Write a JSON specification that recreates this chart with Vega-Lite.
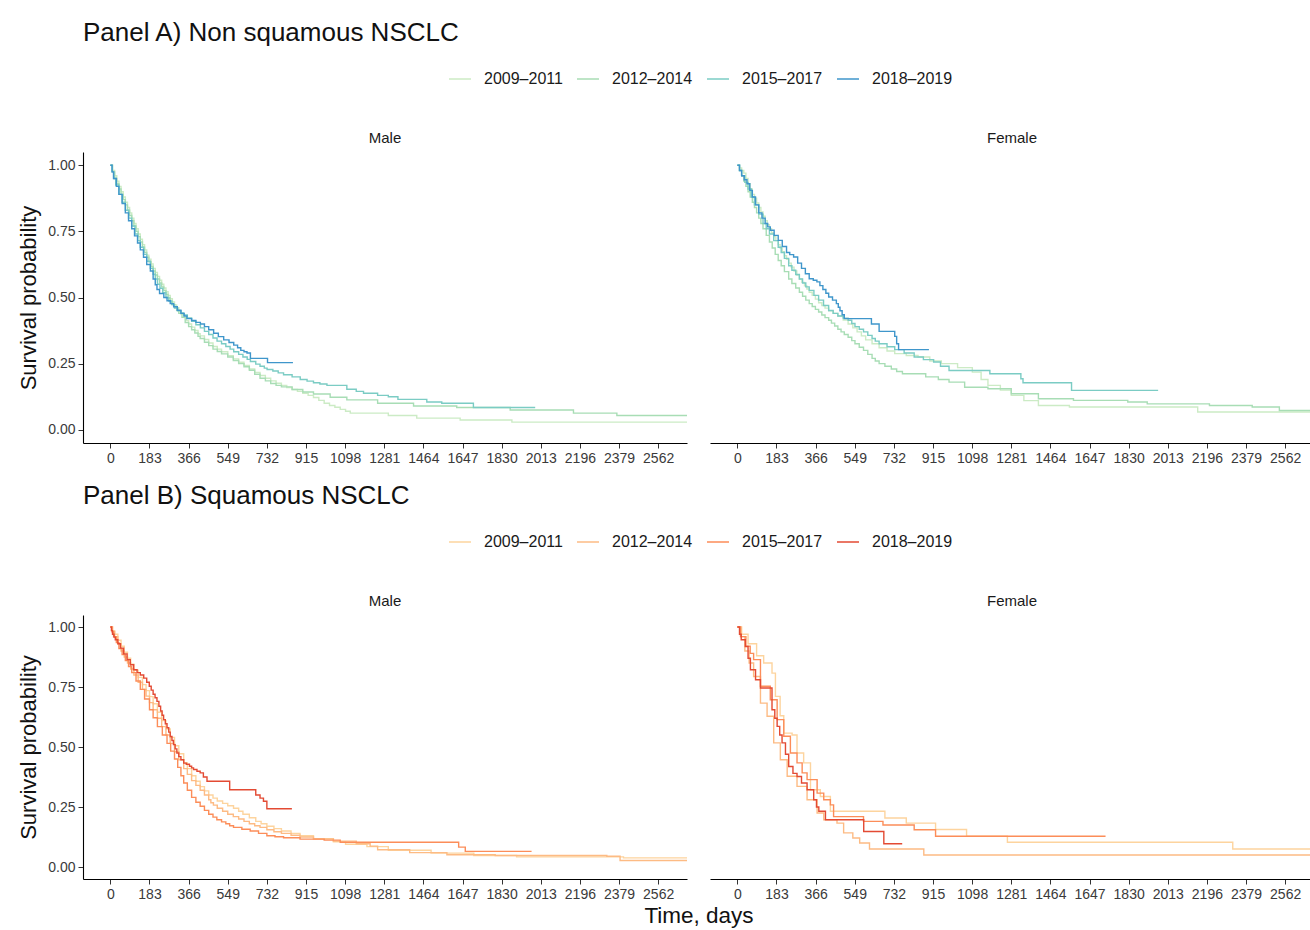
{
"$schema": "https://vega.github.io/schema/vega-lite/v6.json",
"padding": {"left": 17, "top": 20, "right": 0, "bottom": 0},
"config": {
  "font": "Liberation Sans",
  "view": {"stroke": null},
  "title": {"fontSize": 26, "fontWeight": "normal", "anchor": "start", "frame": "group", "color": "#111111", "offset": 21},
  "axis": {"grid": false, "domainColor": "#000000", "domainWidth": 1.1, "tickColor": "#333333", "tickSize": 5, "labelColor": "#3a3a3a", "labelFontSize": 14, "labelPadding": 3, "titleFontSize": 22, "titleFontWeight": "normal", "titleColor": "#111111"},
  "header": {"labelFontSize": 15, "labelColor": "#1a1a1a", "labelPadding": 6},
  "legend": {"orient": "none", "legendX": 365, "legendY": -85, "direction": "horizontal", "symbolType": "stroke", "symbolSize": 484, "symbolStrokeWidth": 1.5, "labelFontSize": 16, "labelColor": "#1a1a1a", "columnPadding": 11, "labelOffset": 12}
},
"datasets": {"km": [
{"p":"A","sex":"Male","g":"2009–2011","d":0,"s":1},{"p":"A","sex":"Male","g":"2009–2011","d":10,"s":0.98},{"p":"A","sex":"Male","g":"2009–2011","d":20,"s":0.96},{"p":"A","sex":"Male","g":"2009–2011","d":30,"s":0.94},{"p":"A","sex":"Male","g":"2009–2011","d":40,"s":0.92},{"p":"A","sex":"Male","g":"2009–2011","d":50,"s":0.90},{"p":"A","sex":"Male","g":"2009–2011","d":60,"s":0.88},{"p":"A","sex":"Male","g":"2009–2011","d":70,"s":0.86},{"p":"A","sex":"Male","g":"2009–2011","d":80,"s":0.84},{"p":"A","sex":"Male","g":"2009–2011","d":90,"s":0.82},{"p":"A","sex":"Male","g":"2009–2011","d":100,"s":0.80},{"p":"A","sex":"Male","g":"2009–2011","d":110,"s":0.78},{"p":"A","sex":"Male","g":"2009–2011","d":120,"s":0.76},{"p":"A","sex":"Male","g":"2009–2011","d":130,"s":0.74},{"p":"A","sex":"Male","g":"2009–2011","d":140,"s":0.72},{"p":"A","sex":"Male","g":"2009–2011","d":150,"s":0.70},{"p":"A","sex":"Male","g":"2009–2011","d":160,"s":0.68},{"p":"A","sex":"Male","g":"2009–2011","d":170,"s":0.66},{"p":"A","sex":"Male","g":"2009–2011","d":180,"s":0.645},{"p":"A","sex":"Male","g":"2009–2011","d":190,"s":0.627},{"p":"A","sex":"Male","g":"2009–2011","d":200,"s":0.61},{"p":"A","sex":"Male","g":"2009–2011","d":210,"s":0.595},{"p":"A","sex":"Male","g":"2009–2011","d":220,"s":0.58},{"p":"A","sex":"Male","g":"2009–2011","d":230,"s":0.565},{"p":"A","sex":"Male","g":"2009–2011","d":240,"s":0.55},{"p":"A","sex":"Male","g":"2009–2011","d":250,"s":0.536},{"p":"A","sex":"Male","g":"2009–2011","d":260,"s":0.522},{"p":"A","sex":"Male","g":"2009–2011","d":270,"s":0.508},{"p":"A","sex":"Male","g":"2009–2011","d":280,"s":0.495},{"p":"A","sex":"Male","g":"2009–2011","d":290,"s":0.483},{"p":"A","sex":"Male","g":"2009–2011","d":300,"s":0.472},{"p":"A","sex":"Male","g":"2009–2011","d":310,"s":0.461},{"p":"A","sex":"Male","g":"2009–2011","d":320,"s":0.45},{"p":"A","sex":"Male","g":"2009–2011","d":330,"s":0.437},{"p":"A","sex":"Male","g":"2009–2011","d":343,"s":0.425},{"p":"A","sex":"Male","g":"2009–2011","d":355,"s":0.412},{"p":"A","sex":"Male","g":"2009–2011","d":366,"s":0.40},{"p":"A","sex":"Male","g":"2009–2011","d":380,"s":0.388},{"p":"A","sex":"Male","g":"2009–2011","d":395,"s":0.375},{"p":"A","sex":"Male","g":"2009–2011","d":410,"s":0.363},{"p":"A","sex":"Male","g":"2009–2011","d":420,"s":0.355},{"p":"A","sex":"Male","g":"2009–2011","d":440,"s":0.341},{"p":"A","sex":"Male","g":"2009–2011","d":460,"s":0.328},{"p":"A","sex":"Male","g":"2009–2011","d":480,"s":0.315},{"p":"A","sex":"Male","g":"2009–2011","d":500,"s":0.305},{"p":"A","sex":"Male","g":"2009–2011","d":520,"s":0.295},{"p":"A","sex":"Male","g":"2009–2011","d":549,"s":0.28},{"p":"A","sex":"Male","g":"2009–2011","d":575,"s":0.268},{"p":"A","sex":"Male","g":"2009–2011","d":600,"s":0.255},{"p":"A","sex":"Male","g":"2009–2011","d":625,"s":0.243},{"p":"A","sex":"Male","g":"2009–2011","d":650,"s":0.23},{"p":"A","sex":"Male","g":"2009–2011","d":675,"s":0.217},{"p":"A","sex":"Male","g":"2009–2011","d":700,"s":0.205},{"p":"A","sex":"Male","g":"2009–2011","d":725,"s":0.195},{"p":"A","sex":"Male","g":"2009–2011","d":750,"s":0.185},{"p":"A","sex":"Male","g":"2009–2011","d":775,"s":0.176},{"p":"A","sex":"Male","g":"2009–2011","d":800,"s":0.168},{"p":"A","sex":"Male","g":"2009–2011","d":825,"s":0.16},{"p":"A","sex":"Male","g":"2009–2011","d":850,"s":0.152},{"p":"A","sex":"Male","g":"2009–2011","d":875,"s":0.145},{"p":"A","sex":"Male","g":"2009–2011","d":900,"s":0.138},{"p":"A","sex":"Male","g":"2009–2011","d":925,"s":0.13},{"p":"A","sex":"Male","g":"2009–2011","d":950,"s":0.122},{"p":"A","sex":"Male","g":"2009–2011","d":975,"s":0.111},{"p":"A","sex":"Male","g":"2009–2011","d":1000,"s":0.10},{"p":"A","sex":"Male","g":"2009–2011","d":1025,"s":0.092},{"p":"A","sex":"Male","g":"2009–2011","d":1050,"s":0.085},{"p":"A","sex":"Male","g":"2009–2011","d":1075,"s":0.077},{"p":"A","sex":"Male","g":"2009–2011","d":1100,"s":0.07},{"p":"A","sex":"Male","g":"2009–2011","d":1122,"s":0.063},{"p":"A","sex":"Male","g":"2009–2011","d":1300,"s":0.054},{"p":"A","sex":"Male","g":"2009–2011","d":1433,"s":0.044},{"p":"A","sex":"Male","g":"2009–2011","d":1636,"s":0.037},{"p":"A","sex":"Male","g":"2009–2011","d":1878,"s":0.029},{"p":"A","sex":"Male","g":"2009–2011","d":2697,"s":0.029},
{"p":"A","sex":"Male","g":"2012–2014","d":0,"s":1},{"p":"A","sex":"Male","g":"2012–2014","d":10,"s":0.975},{"p":"A","sex":"Male","g":"2012–2014","d":20,"s":0.95},{"p":"A","sex":"Male","g":"2012–2014","d":30,"s":0.93},{"p":"A","sex":"Male","g":"2012–2014","d":40,"s":0.91},{"p":"A","sex":"Male","g":"2012–2014","d":50,"s":0.89},{"p":"A","sex":"Male","g":"2012–2014","d":60,"s":0.87},{"p":"A","sex":"Male","g":"2012–2014","d":70,"s":0.85},{"p":"A","sex":"Male","g":"2012–2014","d":80,"s":0.83},{"p":"A","sex":"Male","g":"2012–2014","d":90,"s":0.81},{"p":"A","sex":"Male","g":"2012–2014","d":100,"s":0.79},{"p":"A","sex":"Male","g":"2012–2014","d":110,"s":0.77},{"p":"A","sex":"Male","g":"2012–2014","d":120,"s":0.75},{"p":"A","sex":"Male","g":"2012–2014","d":130,"s":0.73},{"p":"A","sex":"Male","g":"2012–2014","d":140,"s":0.71},{"p":"A","sex":"Male","g":"2012–2014","d":150,"s":0.69},{"p":"A","sex":"Male","g":"2012–2014","d":160,"s":0.67},{"p":"A","sex":"Male","g":"2012–2014","d":170,"s":0.652},{"p":"A","sex":"Male","g":"2012–2014","d":180,"s":0.635},{"p":"A","sex":"Male","g":"2012–2014","d":190,"s":0.617},{"p":"A","sex":"Male","g":"2012–2014","d":200,"s":0.60},{"p":"A","sex":"Male","g":"2012–2014","d":210,"s":0.585},{"p":"A","sex":"Male","g":"2012–2014","d":220,"s":0.57},{"p":"A","sex":"Male","g":"2012–2014","d":230,"s":0.555},{"p":"A","sex":"Male","g":"2012–2014","d":240,"s":0.54},{"p":"A","sex":"Male","g":"2012–2014","d":250,"s":0.526},{"p":"A","sex":"Male","g":"2012–2014","d":260,"s":0.512},{"p":"A","sex":"Male","g":"2012–2014","d":270,"s":0.498},{"p":"A","sex":"Male","g":"2012–2014","d":280,"s":0.485},{"p":"A","sex":"Male","g":"2012–2014","d":290,"s":0.473},{"p":"A","sex":"Male","g":"2012–2014","d":300,"s":0.462},{"p":"A","sex":"Male","g":"2012–2014","d":310,"s":0.451},{"p":"A","sex":"Male","g":"2012–2014","d":320,"s":0.44},{"p":"A","sex":"Male","g":"2012–2014","d":335,"s":0.425},{"p":"A","sex":"Male","g":"2012–2014","d":350,"s":0.405},{"p":"A","sex":"Male","g":"2012–2014","d":366,"s":0.39},{"p":"A","sex":"Male","g":"2012–2014","d":380,"s":0.378},{"p":"A","sex":"Male","g":"2012–2014","d":395,"s":0.366},{"p":"A","sex":"Male","g":"2012–2014","d":410,"s":0.353},{"p":"A","sex":"Male","g":"2012–2014","d":420,"s":0.345},{"p":"A","sex":"Male","g":"2012–2014","d":440,"s":0.331},{"p":"A","sex":"Male","g":"2012–2014","d":460,"s":0.318},{"p":"A","sex":"Male","g":"2012–2014","d":480,"s":0.305},{"p":"A","sex":"Male","g":"2012–2014","d":500,"s":0.296},{"p":"A","sex":"Male","g":"2012–2014","d":520,"s":0.287},{"p":"A","sex":"Male","g":"2012–2014","d":549,"s":0.275},{"p":"A","sex":"Male","g":"2012–2014","d":575,"s":0.262},{"p":"A","sex":"Male","g":"2012–2014","d":600,"s":0.25},{"p":"A","sex":"Male","g":"2012–2014","d":625,"s":0.238},{"p":"A","sex":"Male","g":"2012–2014","d":650,"s":0.225},{"p":"A","sex":"Male","g":"2012–2014","d":675,"s":0.21},{"p":"A","sex":"Male","g":"2012–2014","d":700,"s":0.195},{"p":"A","sex":"Male","g":"2012–2014","d":725,"s":0.185},{"p":"A","sex":"Male","g":"2012–2014","d":750,"s":0.175},{"p":"A","sex":"Male","g":"2012–2014","d":775,"s":0.168},{"p":"A","sex":"Male","g":"2012–2014","d":800,"s":0.162},{"p":"A","sex":"Male","g":"2012–2014","d":850,"s":0.152},{"p":"A","sex":"Male","g":"2012–2014","d":900,"s":0.143},{"p":"A","sex":"Male","g":"2012–2014","d":950,"s":0.135},{"p":"A","sex":"Male","g":"2012–2014","d":1028,"s":0.123},{"p":"A","sex":"Male","g":"2012–2014","d":1106,"s":0.113},{"p":"A","sex":"Male","g":"2012–2014","d":1250,"s":0.10},{"p":"A","sex":"Male","g":"2012–2014","d":1418,"s":0.09},{"p":"A","sex":"Male","g":"2012–2014","d":1620,"s":0.084},{"p":"A","sex":"Male","g":"2012–2014","d":1870,"s":0.075},{"p":"A","sex":"Male","g":"2012–2014","d":2166,"s":0.063},{"p":"A","sex":"Male","g":"2012–2014","d":2369,"s":0.054},{"p":"A","sex":"Male","g":"2012–2014","d":2697,"s":0.054},
{"p":"A","sex":"Male","g":"2015–2017","d":0,"s":1},{"p":"A","sex":"Male","g":"2015–2017","d":8,"s":0.975},{"p":"A","sex":"Male","g":"2015–2017","d":15,"s":0.95},{"p":"A","sex":"Male","g":"2015–2017","d":25,"s":0.925},{"p":"A","sex":"Male","g":"2015–2017","d":40,"s":0.89},{"p":"A","sex":"Male","g":"2015–2017","d":55,"s":0.86},{"p":"A","sex":"Male","g":"2015–2017","d":70,"s":0.83},{"p":"A","sex":"Male","g":"2015–2017","d":85,"s":0.80},{"p":"A","sex":"Male","g":"2015–2017","d":100,"s":0.77},{"p":"A","sex":"Male","g":"2015–2017","d":115,"s":0.74},{"p":"A","sex":"Male","g":"2015–2017","d":128,"s":0.715},{"p":"A","sex":"Male","g":"2015–2017","d":140,"s":0.69},{"p":"A","sex":"Male","g":"2015–2017","d":155,"s":0.663},{"p":"A","sex":"Male","g":"2015–2017","d":170,"s":0.637},{"p":"A","sex":"Male","g":"2015–2017","d":187,"s":0.61},{"p":"A","sex":"Male","g":"2015–2017","d":200,"s":0.588},{"p":"A","sex":"Male","g":"2015–2017","d":210,"s":0.57},{"p":"A","sex":"Male","g":"2015–2017","d":220,"s":0.55},{"p":"A","sex":"Male","g":"2015–2017","d":232,"s":0.535},{"p":"A","sex":"Male","g":"2015–2017","d":245,"s":0.518},{"p":"A","sex":"Male","g":"2015–2017","d":260,"s":0.50},{"p":"A","sex":"Male","g":"2015–2017","d":273,"s":0.487},{"p":"A","sex":"Male","g":"2015–2017","d":287,"s":0.473},{"p":"A","sex":"Male","g":"2015–2017","d":300,"s":0.46},{"p":"A","sex":"Male","g":"2015–2017","d":315,"s":0.45},{"p":"A","sex":"Male","g":"2015–2017","d":330,"s":0.442},{"p":"A","sex":"Male","g":"2015–2017","d":343,"s":0.434},{"p":"A","sex":"Male","g":"2015–2017","d":360,"s":0.423},{"p":"A","sex":"Male","g":"2015–2017","d":380,"s":0.41},{"p":"A","sex":"Male","g":"2015–2017","d":400,"s":0.397},{"p":"A","sex":"Male","g":"2015–2017","d":421,"s":0.385},{"p":"A","sex":"Male","g":"2015–2017","d":440,"s":0.372},{"p":"A","sex":"Male","g":"2015–2017","d":460,"s":0.36},{"p":"A","sex":"Male","g":"2015–2017","d":480,"s":0.347},{"p":"A","sex":"Male","g":"2015–2017","d":499,"s":0.335},{"p":"A","sex":"Male","g":"2015–2017","d":520,"s":0.325},{"p":"A","sex":"Male","g":"2015–2017","d":540,"s":0.315},{"p":"A","sex":"Male","g":"2015–2017","d":560,"s":0.305},{"p":"A","sex":"Male","g":"2015–2017","d":577,"s":0.295},{"p":"A","sex":"Male","g":"2015–2017","d":600,"s":0.285},{"p":"A","sex":"Male","g":"2015–2017","d":620,"s":0.275},{"p":"A","sex":"Male","g":"2015–2017","d":640,"s":0.266},{"p":"A","sex":"Male","g":"2015–2017","d":655,"s":0.258},{"p":"A","sex":"Male","g":"2015–2017","d":680,"s":0.248},{"p":"A","sex":"Male","g":"2015–2017","d":700,"s":0.24},{"p":"A","sex":"Male","g":"2015–2017","d":720,"s":0.233},{"p":"A","sex":"Male","g":"2015–2017","d":733,"s":0.228},{"p":"A","sex":"Male","g":"2015–2017","d":760,"s":0.222},{"p":"A","sex":"Male","g":"2015–2017","d":785,"s":0.215},{"p":"A","sex":"Male","g":"2015–2017","d":810,"s":0.208},{"p":"A","sex":"Male","g":"2015–2017","d":850,"s":0.20},{"p":"A","sex":"Male","g":"2015–2017","d":888,"s":0.19},{"p":"A","sex":"Male","g":"2015–2017","d":920,"s":0.184},{"p":"A","sex":"Male","g":"2015–2017","d":950,"s":0.178},{"p":"A","sex":"Male","g":"2015–2017","d":980,"s":0.173},{"p":"A","sex":"Male","g":"2015–2017","d":1013,"s":0.168},{"p":"A","sex":"Male","g":"2015–2017","d":1106,"s":0.153},{"p":"A","sex":"Male","g":"2015–2017","d":1150,"s":0.145},{"p":"A","sex":"Male","g":"2015–2017","d":1184,"s":0.138},{"p":"A","sex":"Male","g":"2015–2017","d":1250,"s":0.13},{"p":"A","sex":"Male","g":"2015–2017","d":1300,"s":0.125},{"p":"A","sex":"Male","g":"2015–2017","d":1345,"s":0.115},{"p":"A","sex":"Male","g":"2015–2017","d":1480,"s":0.105},{"p":"A","sex":"Male","g":"2015–2017","d":1550,"s":0.10},{"p":"A","sex":"Male","g":"2015–2017","d":1698,"s":0.084},{"p":"A","sex":"Male","g":"2015–2017","d":1987,"s":0.084},
{"p":"A","sex":"Male","g":"2018–2019","d":0,"s":1},{"p":"A","sex":"Male","g":"2018–2019","d":8,"s":0.975},{"p":"A","sex":"Male","g":"2018–2019","d":15,"s":0.95},{"p":"A","sex":"Male","g":"2018–2019","d":28,"s":0.92},{"p":"A","sex":"Male","g":"2018–2019","d":40,"s":0.89},{"p":"A","sex":"Male","g":"2018–2019","d":55,"s":0.855},{"p":"A","sex":"Male","g":"2018–2019","d":70,"s":0.82},{"p":"A","sex":"Male","g":"2018–2019","d":85,"s":0.79},{"p":"A","sex":"Male","g":"2018–2019","d":100,"s":0.76},{"p":"A","sex":"Male","g":"2018–2019","d":113,"s":0.733},{"p":"A","sex":"Male","g":"2018–2019","d":127,"s":0.706},{"p":"A","sex":"Male","g":"2018–2019","d":140,"s":0.68},{"p":"A","sex":"Male","g":"2018–2019","d":155,"s":0.652},{"p":"A","sex":"Male","g":"2018–2019","d":170,"s":0.625},{"p":"A","sex":"Male","g":"2018–2019","d":187,"s":0.60},{"p":"A","sex":"Male","g":"2018–2019","d":200,"s":0.57},{"p":"A","sex":"Male","g":"2018–2019","d":210,"s":0.548},{"p":"A","sex":"Male","g":"2018–2019","d":218,"s":0.53},{"p":"A","sex":"Male","g":"2018–2019","d":230,"s":0.515},{"p":"A","sex":"Male","g":"2018–2019","d":250,"s":0.50},{"p":"A","sex":"Male","g":"2018–2019","d":265,"s":0.488},{"p":"A","sex":"Male","g":"2018–2019","d":280,"s":0.477},{"p":"A","sex":"Male","g":"2018–2019","d":296,"s":0.465},{"p":"A","sex":"Male","g":"2018–2019","d":313,"s":0.452},{"p":"A","sex":"Male","g":"2018–2019","d":330,"s":0.44},{"p":"A","sex":"Male","g":"2018–2019","d":345,"s":0.43},{"p":"A","sex":"Male","g":"2018–2019","d":358,"s":0.42},{"p":"A","sex":"Male","g":"2018–2019","d":380,"s":0.413},{"p":"A","sex":"Male","g":"2018–2019","d":400,"s":0.406},{"p":"A","sex":"Male","g":"2018–2019","d":421,"s":0.40},{"p":"A","sex":"Male","g":"2018–2019","d":440,"s":0.39},{"p":"A","sex":"Male","g":"2018–2019","d":460,"s":0.378},{"p":"A","sex":"Male","g":"2018–2019","d":483,"s":0.365},{"p":"A","sex":"Male","g":"2018–2019","d":505,"s":0.352},{"p":"A","sex":"Male","g":"2018–2019","d":530,"s":0.34},{"p":"A","sex":"Male","g":"2018–2019","d":555,"s":0.33},{"p":"A","sex":"Male","g":"2018–2019","d":577,"s":0.32},{"p":"A","sex":"Male","g":"2018–2019","d":595,"s":0.31},{"p":"A","sex":"Male","g":"2018–2019","d":610,"s":0.30},{"p":"A","sex":"Male","g":"2018–2019","d":625,"s":0.295},{"p":"A","sex":"Male","g":"2018–2019","d":639,"s":0.29},{"p":"A","sex":"Male","g":"2018–2019","d":655,"s":0.27},{"p":"A","sex":"Male","g":"2018–2019","d":735,"s":0.254},{"p":"A","sex":"Male","g":"2018–2019","d":854,"s":0.254},
{"p":"A","sex":"Female","g":"2009–2011","d":0,"s":1},{"p":"A","sex":"Female","g":"2009–2011","d":10,"s":0.99},{"p":"A","sex":"Female","g":"2009–2011","d":20,"s":0.98},{"p":"A","sex":"Female","g":"2009–2011","d":30,"s":0.97},{"p":"A","sex":"Female","g":"2009–2011","d":40,"s":0.95},{"p":"A","sex":"Female","g":"2009–2011","d":50,"s":0.93},{"p":"A","sex":"Female","g":"2009–2011","d":60,"s":0.91},{"p":"A","sex":"Female","g":"2009–2011","d":70,"s":0.89},{"p":"A","sex":"Female","g":"2009–2011","d":80,"s":0.875},{"p":"A","sex":"Female","g":"2009–2011","d":90,"s":0.857},{"p":"A","sex":"Female","g":"2009–2011","d":100,"s":0.84},{"p":"A","sex":"Female","g":"2009–2011","d":110,"s":0.823},{"p":"A","sex":"Female","g":"2009–2011","d":120,"s":0.807},{"p":"A","sex":"Female","g":"2009–2011","d":130,"s":0.79},{"p":"A","sex":"Female","g":"2009–2011","d":140,"s":0.775},{"p":"A","sex":"Female","g":"2009–2011","d":150,"s":0.76},{"p":"A","sex":"Female","g":"2009–2011","d":160,"s":0.745},{"p":"A","sex":"Female","g":"2009–2011","d":170,"s":0.73},{"p":"A","sex":"Female","g":"2009–2011","d":180,"s":0.715},{"p":"A","sex":"Female","g":"2009–2011","d":191,"s":0.70},{"p":"A","sex":"Female","g":"2009–2011","d":200,"s":0.687},{"p":"A","sex":"Female","g":"2009–2011","d":210,"s":0.673},{"p":"A","sex":"Female","g":"2009–2011","d":220,"s":0.658},{"p":"A","sex":"Female","g":"2009–2011","d":230,"s":0.644},{"p":"A","sex":"Female","g":"2009–2011","d":240,"s":0.63},{"p":"A","sex":"Female","g":"2009–2011","d":252,"s":0.615},{"p":"A","sex":"Female","g":"2009–2011","d":265,"s":0.60},{"p":"A","sex":"Female","g":"2009–2011","d":278,"s":0.585},{"p":"A","sex":"Female","g":"2009–2011","d":290,"s":0.57},{"p":"A","sex":"Female","g":"2009–2011","d":302,"s":0.557},{"p":"A","sex":"Female","g":"2009–2011","d":314,"s":0.544},{"p":"A","sex":"Female","g":"2009–2011","d":325,"s":0.532},{"p":"A","sex":"Female","g":"2009–2011","d":336,"s":0.52},{"p":"A","sex":"Female","g":"2009–2011","d":350,"s":0.508},{"p":"A","sex":"Female","g":"2009–2011","d":365,"s":0.494},{"p":"A","sex":"Female","g":"2009–2011","d":380,"s":0.48},{"p":"A","sex":"Female","g":"2009–2011","d":395,"s":0.47},{"p":"A","sex":"Female","g":"2009–2011","d":410,"s":0.46},{"p":"A","sex":"Female","g":"2009–2011","d":427,"s":0.45},{"p":"A","sex":"Female","g":"2009–2011","d":448,"s":0.44},{"p":"A","sex":"Female","g":"2009–2011","d":470,"s":0.43},{"p":"A","sex":"Female","g":"2009–2011","d":495,"s":0.415},{"p":"A","sex":"Female","g":"2009–2011","d":518,"s":0.40},{"p":"A","sex":"Female","g":"2009–2011","d":540,"s":0.385},{"p":"A","sex":"Female","g":"2009–2011","d":560,"s":0.37},{"p":"A","sex":"Female","g":"2009–2011","d":580,"s":0.355},{"p":"A","sex":"Female","g":"2009–2011","d":600,"s":0.34},{"p":"A","sex":"Female","g":"2009–2011","d":630,"s":0.325},{"p":"A","sex":"Female","g":"2009–2011","d":663,"s":0.31},{"p":"A","sex":"Female","g":"2009–2011","d":700,"s":0.298},{"p":"A","sex":"Female","g":"2009–2011","d":736,"s":0.288},{"p":"A","sex":"Female","g":"2009–2011","d":790,"s":0.281},{"p":"A","sex":"Female","g":"2009–2011","d":845,"s":0.275},{"p":"A","sex":"Female","g":"2009–2011","d":900,"s":0.26},{"p":"A","sex":"Female","g":"2009–2011","d":954,"s":0.25},{"p":"A","sex":"Female","g":"2009–2011","d":1030,"s":0.235},{"p":"A","sex":"Female","g":"2009–2011","d":1099,"s":0.218},{"p":"A","sex":"Female","g":"2009–2011","d":1140,"s":0.19},{"p":"A","sex":"Female","g":"2009–2011","d":1172,"s":0.168},{"p":"A","sex":"Female","g":"2009–2011","d":1230,"s":0.15},{"p":"A","sex":"Female","g":"2009–2011","d":1281,"s":0.13},{"p":"A","sex":"Female","g":"2009–2011","d":1340,"s":0.11},{"p":"A","sex":"Female","g":"2009–2011","d":1408,"s":0.092},{"p":"A","sex":"Female","g":"2009–2011","d":1553,"s":0.086},{"p":"A","sex":"Female","g":"2009–2011","d":2153,"s":0.067},{"p":"A","sex":"Female","g":"2009–2011","d":2697,"s":0.067},
{"p":"A","sex":"Female","g":"2012–2014","d":0,"s":1},{"p":"A","sex":"Female","g":"2012–2014","d":10,"s":0.98},{"p":"A","sex":"Female","g":"2012–2014","d":20,"s":0.96},{"p":"A","sex":"Female","g":"2012–2014","d":30,"s":0.94},{"p":"A","sex":"Female","g":"2012–2014","d":40,"s":0.92},{"p":"A","sex":"Female","g":"2012–2014","d":50,"s":0.90},{"p":"A","sex":"Female","g":"2012–2014","d":60,"s":0.88},{"p":"A","sex":"Female","g":"2012–2014","d":70,"s":0.86},{"p":"A","sex":"Female","g":"2012–2014","d":80,"s":0.84},{"p":"A","sex":"Female","g":"2012–2014","d":90,"s":0.82},{"p":"A","sex":"Female","g":"2012–2014","d":100,"s":0.80},{"p":"A","sex":"Female","g":"2012–2014","d":110,"s":0.78},{"p":"A","sex":"Female","g":"2012–2014","d":120,"s":0.76},{"p":"A","sex":"Female","g":"2012–2014","d":135,"s":0.735},{"p":"A","sex":"Female","g":"2012–2014","d":150,"s":0.71},{"p":"A","sex":"Female","g":"2012–2014","d":163,"s":0.687},{"p":"A","sex":"Female","g":"2012–2014","d":177,"s":0.663},{"p":"A","sex":"Female","g":"2012–2014","d":191,"s":0.64},{"p":"A","sex":"Female","g":"2012–2014","d":205,"s":0.62},{"p":"A","sex":"Female","g":"2012–2014","d":220,"s":0.598},{"p":"A","sex":"Female","g":"2012–2014","d":240,"s":0.57},{"p":"A","sex":"Female","g":"2012–2014","d":255,"s":0.553},{"p":"A","sex":"Female","g":"2012–2014","d":273,"s":0.536},{"p":"A","sex":"Female","g":"2012–2014","d":290,"s":0.52},{"p":"A","sex":"Female","g":"2012–2014","d":305,"s":0.505},{"p":"A","sex":"Female","g":"2012–2014","d":320,"s":0.49},{"p":"A","sex":"Female","g":"2012–2014","d":336,"s":0.477},{"p":"A","sex":"Female","g":"2012–2014","d":350,"s":0.466},{"p":"A","sex":"Female","g":"2012–2014","d":365,"s":0.455},{"p":"A","sex":"Female","g":"2012–2014","d":380,"s":0.445},{"p":"A","sex":"Female","g":"2012–2014","d":395,"s":0.434},{"p":"A","sex":"Female","g":"2012–2014","d":410,"s":0.424},{"p":"A","sex":"Female","g":"2012–2014","d":427,"s":0.414},{"p":"A","sex":"Female","g":"2012–2014","d":440,"s":0.403},{"p":"A","sex":"Female","g":"2012–2014","d":455,"s":0.392},{"p":"A","sex":"Female","g":"2012–2014","d":470,"s":0.38},{"p":"A","sex":"Female","g":"2012–2014","d":485,"s":0.37},{"p":"A","sex":"Female","g":"2012–2014","d":500,"s":0.36},{"p":"A","sex":"Female","g":"2012–2014","d":518,"s":0.35},{"p":"A","sex":"Female","g":"2012–2014","d":535,"s":0.337},{"p":"A","sex":"Female","g":"2012–2014","d":550,"s":0.325},{"p":"A","sex":"Female","g":"2012–2014","d":570,"s":0.312},{"p":"A","sex":"Female","g":"2012–2014","d":590,"s":0.30},{"p":"A","sex":"Female","g":"2012–2014","d":610,"s":0.285},{"p":"A","sex":"Female","g":"2012–2014","d":630,"s":0.27},{"p":"A","sex":"Female","g":"2012–2014","d":645,"s":0.26},{"p":"A","sex":"Female","g":"2012–2014","d":663,"s":0.25},{"p":"A","sex":"Female","g":"2012–2014","d":690,"s":0.24},{"p":"A","sex":"Female","g":"2012–2014","d":720,"s":0.23},{"p":"A","sex":"Female","g":"2012–2014","d":745,"s":0.22},{"p":"A","sex":"Female","g":"2012–2014","d":772,"s":0.212},{"p":"A","sex":"Female","g":"2012–2014","d":881,"s":0.20},{"p":"A","sex":"Female","g":"2012–2014","d":940,"s":0.19},{"p":"A","sex":"Female","g":"2012–2014","d":990,"s":0.18},{"p":"A","sex":"Female","g":"2012–2014","d":1063,"s":0.161},{"p":"A","sex":"Female","g":"2012–2014","d":1172,"s":0.155},{"p":"A","sex":"Female","g":"2012–2014","d":1281,"s":0.136},{"p":"A","sex":"Female","g":"2012–2014","d":1408,"s":0.117},{"p":"A","sex":"Female","g":"2012–2014","d":1572,"s":0.111},{"p":"A","sex":"Female","g":"2012–2014","d":1826,"s":0.105},{"p":"A","sex":"Female","g":"2012–2014","d":1917,"s":0.098},{"p":"A","sex":"Female","g":"2012–2014","d":2208,"s":0.092},{"p":"A","sex":"Female","g":"2012–2014","d":2408,"s":0.086},{"p":"A","sex":"Female","g":"2012–2014","d":2535,"s":0.073},{"p":"A","sex":"Female","g":"2012–2014","d":2697,"s":0.073},
{"p":"A","sex":"Female","g":"2015–2017","d":0,"s":1},{"p":"A","sex":"Female","g":"2015–2017","d":10,"s":0.98},{"p":"A","sex":"Female","g":"2015–2017","d":20,"s":0.96},{"p":"A","sex":"Female","g":"2015–2017","d":35,"s":0.935},{"p":"A","sex":"Female","g":"2015–2017","d":50,"s":0.91},{"p":"A","sex":"Female","g":"2015–2017","d":65,"s":0.88},{"p":"A","sex":"Female","g":"2015–2017","d":80,"s":0.85},{"p":"A","sex":"Female","g":"2015–2017","d":100,"s":0.815},{"p":"A","sex":"Female","g":"2015–2017","d":120,"s":0.78},{"p":"A","sex":"Female","g":"2015–2017","d":135,"s":0.76},{"p":"A","sex":"Female","g":"2015–2017","d":150,"s":0.74},{"p":"A","sex":"Female","g":"2015–2017","d":170,"s":0.715},{"p":"A","sex":"Female","g":"2015–2017","d":191,"s":0.69},{"p":"A","sex":"Female","g":"2015–2017","d":205,"s":0.67},{"p":"A","sex":"Female","g":"2015–2017","d":220,"s":0.648},{"p":"A","sex":"Female","g":"2015–2017","d":240,"s":0.62},{"p":"A","sex":"Female","g":"2015–2017","d":255,"s":0.603},{"p":"A","sex":"Female","g":"2015–2017","d":273,"s":0.587},{"p":"A","sex":"Female","g":"2015–2017","d":290,"s":0.57},{"p":"A","sex":"Female","g":"2015–2017","d":305,"s":0.555},{"p":"A","sex":"Female","g":"2015–2017","d":320,"s":0.54},{"p":"A","sex":"Female","g":"2015–2017","d":336,"s":0.527},{"p":"A","sex":"Female","g":"2015–2017","d":358,"s":0.508},{"p":"A","sex":"Female","g":"2015–2017","d":380,"s":0.49},{"p":"A","sex":"Female","g":"2015–2017","d":403,"s":0.47},{"p":"A","sex":"Female","g":"2015–2017","d":427,"s":0.451},{"p":"A","sex":"Female","g":"2015–2017","d":448,"s":0.44},{"p":"A","sex":"Female","g":"2015–2017","d":470,"s":0.43},{"p":"A","sex":"Female","g":"2015–2017","d":495,"s":0.422},{"p":"A","sex":"Female","g":"2015–2017","d":518,"s":0.414},{"p":"A","sex":"Female","g":"2015–2017","d":535,"s":0.402},{"p":"A","sex":"Female","g":"2015–2017","d":550,"s":0.39},{"p":"A","sex":"Female","g":"2015–2017","d":570,"s":0.38},{"p":"A","sex":"Female","g":"2015–2017","d":590,"s":0.37},{"p":"A","sex":"Female","g":"2015–2017","d":610,"s":0.357},{"p":"A","sex":"Female","g":"2015–2017","d":630,"s":0.345},{"p":"A","sex":"Female","g":"2015–2017","d":645,"s":0.335},{"p":"A","sex":"Female","g":"2015–2017","d":663,"s":0.325},{"p":"A","sex":"Female","g":"2015–2017","d":700,"s":0.314},{"p":"A","sex":"Female","g":"2015–2017","d":736,"s":0.303},{"p":"A","sex":"Female","g":"2015–2017","d":780,"s":0.29},{"p":"A","sex":"Female","g":"2015–2017","d":827,"s":0.275},{"p":"A","sex":"Female","g":"2015–2017","d":870,"s":0.265},{"p":"A","sex":"Female","g":"2015–2017","d":918,"s":0.256},{"p":"A","sex":"Female","g":"2015–2017","d":950,"s":0.24},{"p":"A","sex":"Female","g":"2015–2017","d":990,"s":0.224},{"p":"A","sex":"Female","g":"2015–2017","d":1181,"s":0.212},{"p":"A","sex":"Female","g":"2015–2017","d":1326,"s":0.193},{"p":"A","sex":"Female","g":"2015–2017","d":1336,"s":0.178},{"p":"A","sex":"Female","g":"2015–2017","d":1563,"s":0.149},{"p":"A","sex":"Female","g":"2015–2017","d":1968,"s":0.149},
{"p":"A","sex":"Female","g":"2018–2019","d":0,"s":1},{"p":"A","sex":"Female","g":"2018–2019","d":10,"s":0.98},{"p":"A","sex":"Female","g":"2018–2019","d":20,"s":0.96},{"p":"A","sex":"Female","g":"2018–2019","d":32,"s":0.945},{"p":"A","sex":"Female","g":"2018–2019","d":45,"s":0.93},{"p":"A","sex":"Female","g":"2018–2019","d":58,"s":0.905},{"p":"A","sex":"Female","g":"2018–2019","d":70,"s":0.88},{"p":"A","sex":"Female","g":"2018–2019","d":85,"s":0.85},{"p":"A","sex":"Female","g":"2018–2019","d":100,"s":0.82},{"p":"A","sex":"Female","g":"2018–2019","d":115,"s":0.80},{"p":"A","sex":"Female","g":"2018–2019","d":130,"s":0.78},{"p":"A","sex":"Female","g":"2018–2019","d":142,"s":0.767},{"p":"A","sex":"Female","g":"2018–2019","d":154,"s":0.754},{"p":"A","sex":"Female","g":"2018–2019","d":172,"s":0.735},{"p":"A","sex":"Female","g":"2018–2019","d":191,"s":0.716},{"p":"A","sex":"Female","g":"2018–2019","d":210,"s":0.693},{"p":"A","sex":"Female","g":"2018–2019","d":230,"s":0.67},{"p":"A","sex":"Female","g":"2018–2019","d":245,"s":0.662},{"p":"A","sex":"Female","g":"2018–2019","d":263,"s":0.653},{"p":"A","sex":"Female","g":"2018–2019","d":282,"s":0.63},{"p":"A","sex":"Female","g":"2018–2019","d":300,"s":0.61},{"p":"A","sex":"Female","g":"2018–2019","d":318,"s":0.59},{"p":"A","sex":"Female","g":"2018–2019","d":336,"s":0.571},{"p":"A","sex":"Female","g":"2018–2019","d":355,"s":0.565},{"p":"A","sex":"Female","g":"2018–2019","d":372,"s":0.559},{"p":"A","sex":"Female","g":"2018–2019","d":386,"s":0.545},{"p":"A","sex":"Female","g":"2018–2019","d":400,"s":0.53},{"p":"A","sex":"Female","g":"2018–2019","d":414,"s":0.516},{"p":"A","sex":"Female","g":"2018–2019","d":427,"s":0.502},{"p":"A","sex":"Female","g":"2018–2019","d":445,"s":0.49},{"p":"A","sex":"Female","g":"2018–2019","d":463,"s":0.477},{"p":"A","sex":"Female","g":"2018–2019","d":472,"s":0.463},{"p":"A","sex":"Female","g":"2018–2019","d":480,"s":0.45},{"p":"A","sex":"Female","g":"2018–2019","d":490,"s":0.435},{"p":"A","sex":"Female","g":"2018–2019","d":500,"s":0.42},{"p":"A","sex":"Female","g":"2018–2019","d":627,"s":0.40},{"p":"A","sex":"Female","g":"2018–2019","d":663,"s":0.372},{"p":"A","sex":"Female","g":"2018–2019","d":736,"s":0.353},{"p":"A","sex":"Female","g":"2018–2019","d":745,"s":0.325},{"p":"A","sex":"Female","g":"2018–2019","d":754,"s":0.303},{"p":"A","sex":"Female","g":"2018–2019","d":896,"s":0.303},
{"p":"B","sex":"Male","g":"2009–2011","d":0,"s":1},{"p":"B","sex":"Male","g":"2009–2011","d":10,"s":0.985},{"p":"B","sex":"Male","g":"2009–2011","d":20,"s":0.97},{"p":"B","sex":"Male","g":"2009–2011","d":35,"s":0.945},{"p":"B","sex":"Male","g":"2009–2011","d":50,"s":0.92},{"p":"B","sex":"Male","g":"2009–2011","d":65,"s":0.895},{"p":"B","sex":"Male","g":"2009–2011","d":80,"s":0.87},{"p":"B","sex":"Male","g":"2009–2011","d":95,"s":0.845},{"p":"B","sex":"Male","g":"2009–2011","d":110,"s":0.82},{"p":"B","sex":"Male","g":"2009–2011","d":130,"s":0.79},{"p":"B","sex":"Male","g":"2009–2011","d":150,"s":0.76},{"p":"B","sex":"Male","g":"2009–2011","d":167,"s":0.735},{"p":"B","sex":"Male","g":"2009–2011","d":183,"s":0.71},{"p":"B","sex":"Male","g":"2009–2011","d":200,"s":0.68},{"p":"B","sex":"Male","g":"2009–2011","d":220,"s":0.645},{"p":"B","sex":"Male","g":"2009–2011","d":240,"s":0.61},{"p":"B","sex":"Male","g":"2009–2011","d":260,"s":0.575},{"p":"B","sex":"Male","g":"2009–2011","d":280,"s":0.54},{"p":"B","sex":"Male","g":"2009–2011","d":300,"s":0.505},{"p":"B","sex":"Male","g":"2009–2011","d":320,"s":0.472},{"p":"B","sex":"Male","g":"2009–2011","d":343,"s":0.435},{"p":"B","sex":"Male","g":"2009–2011","d":360,"s":0.41},{"p":"B","sex":"Male","g":"2009–2011","d":380,"s":0.38},{"p":"B","sex":"Male","g":"2009–2011","d":400,"s":0.357},{"p":"B","sex":"Male","g":"2009–2011","d":420,"s":0.335},{"p":"B","sex":"Male","g":"2009–2011","d":440,"s":0.317},{"p":"B","sex":"Male","g":"2009–2011","d":460,"s":0.30},{"p":"B","sex":"Male","g":"2009–2011","d":480,"s":0.287},{"p":"B","sex":"Male","g":"2009–2011","d":500,"s":0.275},{"p":"B","sex":"Male","g":"2009–2011","d":525,"s":0.265},{"p":"B","sex":"Male","g":"2009–2011","d":549,"s":0.255},{"p":"B","sex":"Male","g":"2009–2011","d":576,"s":0.245},{"p":"B","sex":"Male","g":"2009–2011","d":600,"s":0.232},{"p":"B","sex":"Male","g":"2009–2011","d":620,"s":0.22},{"p":"B","sex":"Male","g":"2009–2011","d":650,"s":0.205},{"p":"B","sex":"Male","g":"2009–2011","d":680,"s":0.19},{"p":"B","sex":"Male","g":"2009–2011","d":705,"s":0.18},{"p":"B","sex":"Male","g":"2009–2011","d":732,"s":0.17},{"p":"B","sex":"Male","g":"2009–2011","d":765,"s":0.16},{"p":"B","sex":"Male","g":"2009–2011","d":800,"s":0.15},{"p":"B","sex":"Male","g":"2009–2011","d":845,"s":0.14},{"p":"B","sex":"Male","g":"2009–2011","d":887,"s":0.13},{"p":"B","sex":"Male","g":"2009–2011","d":950,"s":0.118},{"p":"B","sex":"Male","g":"2009–2011","d":1043,"s":0.105},{"p":"B","sex":"Male","g":"2009–2011","d":1100,"s":0.095},{"p":"B","sex":"Male","g":"2009–2011","d":1200,"s":0.085},{"p":"B","sex":"Male","g":"2009–2011","d":1300,"s":0.07},{"p":"B","sex":"Male","g":"2009–2011","d":1500,"s":0.058},{"p":"B","sex":"Male","g":"2009–2011","d":1700,"s":0.048},{"p":"B","sex":"Male","g":"2009–2011","d":1900,"s":0.042},{"p":"B","sex":"Male","g":"2009–2011","d":2400,"s":0.038},{"p":"B","sex":"Male","g":"2009–2011","d":2697,"s":0.038},
{"p":"B","sex":"Male","g":"2012–2014","d":0,"s":1},{"p":"B","sex":"Male","g":"2012–2014","d":10,"s":0.98},{"p":"B","sex":"Male","g":"2012–2014","d":20,"s":0.96},{"p":"B","sex":"Male","g":"2012–2014","d":35,"s":0.93},{"p":"B","sex":"Male","g":"2012–2014","d":50,"s":0.90},{"p":"B","sex":"Male","g":"2012–2014","d":65,"s":0.875},{"p":"B","sex":"Male","g":"2012–2014","d":80,"s":0.85},{"p":"B","sex":"Male","g":"2012–2014","d":95,"s":0.825},{"p":"B","sex":"Male","g":"2012–2014","d":110,"s":0.80},{"p":"B","sex":"Male","g":"2012–2014","d":130,"s":0.77},{"p":"B","sex":"Male","g":"2012–2014","d":150,"s":0.74},{"p":"B","sex":"Male","g":"2012–2014","d":167,"s":0.712},{"p":"B","sex":"Male","g":"2012–2014","d":183,"s":0.685},{"p":"B","sex":"Male","g":"2012–2014","d":200,"s":0.655},{"p":"B","sex":"Male","g":"2012–2014","d":220,"s":0.62},{"p":"B","sex":"Male","g":"2012–2014","d":240,"s":0.585},{"p":"B","sex":"Male","g":"2012–2014","d":260,"s":0.55},{"p":"B","sex":"Male","g":"2012–2014","d":280,"s":0.515},{"p":"B","sex":"Male","g":"2012–2014","d":300,"s":0.48},{"p":"B","sex":"Male","g":"2012–2014","d":320,"s":0.447},{"p":"B","sex":"Male","g":"2012–2014","d":343,"s":0.41},{"p":"B","sex":"Male","g":"2012–2014","d":360,"s":0.386},{"p":"B","sex":"Male","g":"2012–2014","d":380,"s":0.36},{"p":"B","sex":"Male","g":"2012–2014","d":400,"s":0.34},{"p":"B","sex":"Male","g":"2012–2014","d":420,"s":0.32},{"p":"B","sex":"Male","g":"2012–2014","d":440,"s":0.30},{"p":"B","sex":"Male","g":"2012–2014","d":460,"s":0.28},{"p":"B","sex":"Male","g":"2012–2014","d":470,"s":0.268},{"p":"B","sex":"Male","g":"2012–2014","d":482,"s":0.258},{"p":"B","sex":"Male","g":"2012–2014","d":500,"s":0.245},{"p":"B","sex":"Male","g":"2012–2014","d":525,"s":0.232},{"p":"B","sex":"Male","g":"2012–2014","d":549,"s":0.22},{"p":"B","sex":"Male","g":"2012–2014","d":575,"s":0.21},{"p":"B","sex":"Male","g":"2012–2014","d":600,"s":0.20},{"p":"B","sex":"Male","g":"2012–2014","d":625,"s":0.19},{"p":"B","sex":"Male","g":"2012–2014","d":650,"s":0.18},{"p":"B","sex":"Male","g":"2012–2014","d":675,"s":0.172},{"p":"B","sex":"Male","g":"2012–2014","d":700,"s":0.165},{"p":"B","sex":"Male","g":"2012–2014","d":732,"s":0.155},{"p":"B","sex":"Male","g":"2012–2014","d":765,"s":0.147},{"p":"B","sex":"Male","g":"2012–2014","d":800,"s":0.14},{"p":"B","sex":"Male","g":"2012–2014","d":845,"s":0.132},{"p":"B","sex":"Male","g":"2012–2014","d":887,"s":0.125},{"p":"B","sex":"Male","g":"2012–2014","d":950,"s":0.117},{"p":"B","sex":"Male","g":"2012–2014","d":1043,"s":0.108},{"p":"B","sex":"Male","g":"2012–2014","d":1150,"s":0.097},{"p":"B","sex":"Male","g":"2012–2014","d":1215,"s":0.087},{"p":"B","sex":"Male","g":"2012–2014","d":1250,"s":0.072},{"p":"B","sex":"Male","g":"2012–2014","d":1400,"s":0.06},{"p":"B","sex":"Male","g":"2012–2014","d":1574,"s":0.051},{"p":"B","sex":"Male","g":"2012–2014","d":1800,"s":0.048},{"p":"B","sex":"Male","g":"2012–2014","d":2322,"s":0.045},{"p":"B","sex":"Male","g":"2012–2014","d":2384,"s":0.027},{"p":"B","sex":"Male","g":"2012–2014","d":2697,"s":0.027},
{"p":"B","sex":"Male","g":"2015–2017","d":0,"s":1},{"p":"B","sex":"Male","g":"2015–2017","d":8,"s":0.98},{"p":"B","sex":"Male","g":"2015–2017","d":15,"s":0.96},{"p":"B","sex":"Male","g":"2015–2017","d":28,"s":0.935},{"p":"B","sex":"Male","g":"2015–2017","d":40,"s":0.91},{"p":"B","sex":"Male","g":"2015–2017","d":55,"s":0.885},{"p":"B","sex":"Male","g":"2015–2017","d":70,"s":0.86},{"p":"B","sex":"Male","g":"2015–2017","d":85,"s":0.835},{"p":"B","sex":"Male","g":"2015–2017","d":100,"s":0.81},{"p":"B","sex":"Male","g":"2015–2017","d":120,"s":0.775},{"p":"B","sex":"Male","g":"2015–2017","d":140,"s":0.74},{"p":"B","sex":"Male","g":"2015–2017","d":160,"s":0.70},{"p":"B","sex":"Male","g":"2015–2017","d":183,"s":0.655},{"p":"B","sex":"Male","g":"2015–2017","d":200,"s":0.622},{"p":"B","sex":"Male","g":"2015–2017","d":220,"s":0.585},{"p":"B","sex":"Male","g":"2015–2017","d":243,"s":0.55},{"p":"B","sex":"Male","g":"2015–2017","d":265,"s":0.515},{"p":"B","sex":"Male","g":"2015–2017","d":282,"s":0.483},{"p":"B","sex":"Male","g":"2015–2017","d":300,"s":0.45},{"p":"B","sex":"Male","g":"2015–2017","d":315,"s":0.415},{"p":"B","sex":"Male","g":"2015–2017","d":330,"s":0.38},{"p":"B","sex":"Male","g":"2015–2017","d":343,"s":0.35},{"p":"B","sex":"Male","g":"2015–2017","d":360,"s":0.32},{"p":"B","sex":"Male","g":"2015–2017","d":380,"s":0.29},{"p":"B","sex":"Male","g":"2015–2017","d":400,"s":0.27},{"p":"B","sex":"Male","g":"2015–2017","d":420,"s":0.253},{"p":"B","sex":"Male","g":"2015–2017","d":440,"s":0.236},{"p":"B","sex":"Male","g":"2015–2017","d":460,"s":0.22},{"p":"B","sex":"Male","g":"2015–2017","d":480,"s":0.208},{"p":"B","sex":"Male","g":"2015–2017","d":498,"s":0.197},{"p":"B","sex":"Male","g":"2015–2017","d":520,"s":0.188},{"p":"B","sex":"Male","g":"2015–2017","d":540,"s":0.18},{"p":"B","sex":"Male","g":"2015–2017","d":558,"s":0.172},{"p":"B","sex":"Male","g":"2015–2017","d":576,"s":0.165},{"p":"B","sex":"Male","g":"2015–2017","d":615,"s":0.157},{"p":"B","sex":"Male","g":"2015–2017","d":654,"s":0.15},{"p":"B","sex":"Male","g":"2015–2017","d":693,"s":0.14},{"p":"B","sex":"Male","g":"2015–2017","d":732,"s":0.13},{"p":"B","sex":"Male","g":"2015–2017","d":770,"s":0.126},{"p":"B","sex":"Male","g":"2015–2017","d":810,"s":0.122},{"p":"B","sex":"Male","g":"2015–2017","d":887,"s":0.116},{"p":"B","sex":"Male","g":"2015–2017","d":1000,"s":0.112},{"p":"B","sex":"Male","g":"2015–2017","d":1075,"s":0.103},{"p":"B","sex":"Male","g":"2015–2017","d":1629,"s":0.083},{"p":"B","sex":"Male","g":"2015–2017","d":1660,"s":0.065},{"p":"B","sex":"Male","g":"2015–2017","d":1970,"s":0.065},
{"p":"B","sex":"Male","g":"2018–2019","d":0,"s":1},{"p":"B","sex":"Male","g":"2018–2019","d":5,"s":0.985},{"p":"B","sex":"Male","g":"2018–2019","d":10,"s":0.97},{"p":"B","sex":"Male","g":"2018–2019","d":17,"s":0.958},{"p":"B","sex":"Male","g":"2018–2019","d":23,"s":0.947},{"p":"B","sex":"Male","g":"2018–2019","d":35,"s":0.93},{"p":"B","sex":"Male","g":"2018–2019","d":47,"s":0.912},{"p":"B","sex":"Male","g":"2018–2019","d":62,"s":0.888},{"p":"B","sex":"Male","g":"2018–2019","d":78,"s":0.864},{"p":"B","sex":"Male","g":"2018–2019","d":93,"s":0.843},{"p":"B","sex":"Male","g":"2018–2019","d":109,"s":0.822},{"p":"B","sex":"Male","g":"2018–2019","d":125,"s":0.81},{"p":"B","sex":"Male","g":"2018–2019","d":140,"s":0.80},{"p":"B","sex":"Male","g":"2018–2019","d":156,"s":0.787},{"p":"B","sex":"Male","g":"2018–2019","d":170,"s":0.77},{"p":"B","sex":"Male","g":"2018–2019","d":182,"s":0.753},{"p":"B","sex":"Male","g":"2018–2019","d":191,"s":0.737},{"p":"B","sex":"Male","g":"2018–2019","d":200,"s":0.72},{"p":"B","sex":"Male","g":"2018–2019","d":209,"s":0.705},{"p":"B","sex":"Male","g":"2018–2019","d":218,"s":0.69},{"p":"B","sex":"Male","g":"2018–2019","d":227,"s":0.67},{"p":"B","sex":"Male","g":"2018–2019","d":235,"s":0.65},{"p":"B","sex":"Male","g":"2018–2019","d":242,"s":0.632},{"p":"B","sex":"Male","g":"2018–2019","d":249,"s":0.614},{"p":"B","sex":"Male","g":"2018–2019","d":257,"s":0.597},{"p":"B","sex":"Male","g":"2018–2019","d":265,"s":0.58},{"p":"B","sex":"Male","g":"2018–2019","d":273,"s":0.562},{"p":"B","sex":"Male","g":"2018–2019","d":280,"s":0.544},{"p":"B","sex":"Male","g":"2018–2019","d":288,"s":0.527},{"p":"B","sex":"Male","g":"2018–2019","d":295,"s":0.51},{"p":"B","sex":"Male","g":"2018–2019","d":303,"s":0.492},{"p":"B","sex":"Male","g":"2018–2019","d":311,"s":0.475},{"p":"B","sex":"Male","g":"2018–2019","d":320,"s":0.46},{"p":"B","sex":"Male","g":"2018–2019","d":330,"s":0.447},{"p":"B","sex":"Male","g":"2018–2019","d":343,"s":0.433},{"p":"B","sex":"Male","g":"2018–2019","d":355,"s":0.428},{"p":"B","sex":"Male","g":"2018–2019","d":370,"s":0.42},{"p":"B","sex":"Male","g":"2018–2019","d":380,"s":0.413},{"p":"B","sex":"Male","g":"2018–2019","d":389,"s":0.406},{"p":"B","sex":"Male","g":"2018–2019","d":405,"s":0.399},{"p":"B","sex":"Male","g":"2018–2019","d":420,"s":0.392},{"p":"B","sex":"Male","g":"2018–2019","d":435,"s":0.375},{"p":"B","sex":"Male","g":"2018–2019","d":452,"s":0.357},{"p":"B","sex":"Male","g":"2018–2019","d":558,"s":0.322},{"p":"B","sex":"Male","g":"2018–2019","d":680,"s":0.30},{"p":"B","sex":"Male","g":"2018–2019","d":700,"s":0.287},{"p":"B","sex":"Male","g":"2018–2019","d":716,"s":0.274},{"p":"B","sex":"Male","g":"2018–2019","d":732,"s":0.243},{"p":"B","sex":"Male","g":"2018–2019","d":849,"s":0.243},
{"p":"B","sex":"Female","g":"2009–2011","d":0,"s":1},{"p":"B","sex":"Female","g":"2009–2011","d":20,"s":0.97},{"p":"B","sex":"Female","g":"2009–2011","d":50,"s":0.93},{"p":"B","sex":"Female","g":"2009–2011","d":90,"s":0.88},{"p":"B","sex":"Female","g":"2009–2011","d":123,"s":0.85},{"p":"B","sex":"Female","g":"2009–2011","d":162,"s":0.808},{"p":"B","sex":"Female","g":"2009–2011","d":178,"s":0.711},{"p":"B","sex":"Female","g":"2009–2011","d":200,"s":0.63},{"p":"B","sex":"Female","g":"2009–2011","d":217,"s":0.558},{"p":"B","sex":"Female","g":"2009–2011","d":256,"s":0.55},{"p":"B","sex":"Female","g":"2009–2011","d":279,"s":0.475},{"p":"B","sex":"Female","g":"2009–2011","d":310,"s":0.434},{"p":"B","sex":"Female","g":"2009–2011","d":342,"s":0.322},{"p":"B","sex":"Female","g":"2009–2011","d":388,"s":0.294},{"p":"B","sex":"Female","g":"2009–2011","d":435,"s":0.232},{"p":"B","sex":"Female","g":"2009–2011","d":690,"s":0.204},{"p":"B","sex":"Female","g":"2009–2011","d":790,"s":0.183},{"p":"B","sex":"Female","g":"2009–2011","d":927,"s":0.156},{"p":"B","sex":"Female","g":"2009–2011","d":1072,"s":0.128},{"p":"B","sex":"Female","g":"2009–2011","d":1263,"s":0.103},{"p":"B","sex":"Female","g":"2009–2011","d":2317,"s":0.075},{"p":"B","sex":"Female","g":"2009–2011","d":2697,"s":0.075},
{"p":"B","sex":"Female","g":"2012–2014","d":0,"s":1},{"p":"B","sex":"Female","g":"2012–2014","d":15,"s":0.96},{"p":"B","sex":"Female","g":"2012–2014","d":35,"s":0.90},{"p":"B","sex":"Female","g":"2012–2014","d":55,"s":0.85},{"p":"B","sex":"Female","g":"2012–2014","d":76,"s":0.794},{"p":"B","sex":"Female","g":"2012–2014","d":108,"s":0.683},{"p":"B","sex":"Female","g":"2012–2014","d":139,"s":0.628},{"p":"B","sex":"Female","g":"2012–2014","d":170,"s":0.517},{"p":"B","sex":"Female","g":"2012–2014","d":201,"s":0.447},{"p":"B","sex":"Female","g":"2012–2014","d":233,"s":0.378},{"p":"B","sex":"Female","g":"2012–2014","d":279,"s":0.336},{"p":"B","sex":"Female","g":"2012–2014","d":326,"s":0.28},{"p":"B","sex":"Female","g":"2012–2014","d":373,"s":0.225},{"p":"B","sex":"Female","g":"2012–2014","d":404,"s":0.197},{"p":"B","sex":"Female","g":"2012–2014","d":466,"s":0.183},{"p":"B","sex":"Female","g":"2012–2014","d":497,"s":0.142},{"p":"B","sex":"Female","g":"2012–2014","d":540,"s":0.121},{"p":"B","sex":"Female","g":"2012–2014","d":572,"s":0.10},{"p":"B","sex":"Female","g":"2012–2014","d":618,"s":0.075},{"p":"B","sex":"Female","g":"2012–2014","d":872,"s":0.05},{"p":"B","sex":"Female","g":"2012–2014","d":2697,"s":0.05},
{"p":"B","sex":"Female","g":"2015–2017","d":0,"s":1},{"p":"B","sex":"Female","g":"2015–2017","d":15,"s":0.96},{"p":"B","sex":"Female","g":"2015–2017","d":40,"s":0.92},{"p":"B","sex":"Female","g":"2015–2017","d":60,"s":0.89},{"p":"B","sex":"Female","g":"2015–2017","d":76,"s":0.864},{"p":"B","sex":"Female","g":"2015–2017","d":108,"s":0.753},{"p":"B","sex":"Female","g":"2015–2017","d":154,"s":0.697},{"p":"B","sex":"Female","g":"2015–2017","d":186,"s":0.614},{"p":"B","sex":"Female","g":"2015–2017","d":217,"s":0.545},{"p":"B","sex":"Female","g":"2015–2017","d":248,"s":0.475},{"p":"B","sex":"Female","g":"2015–2017","d":279,"s":0.434},{"p":"B","sex":"Female","g":"2015–2017","d":303,"s":0.392},{"p":"B","sex":"Female","g":"2015–2017","d":326,"s":0.364},{"p":"B","sex":"Female","g":"2015–2017","d":373,"s":0.308},{"p":"B","sex":"Female","g":"2015–2017","d":404,"s":0.28},{"p":"B","sex":"Female","g":"2015–2017","d":435,"s":0.259},{"p":"B","sex":"Female","g":"2015–2017","d":450,"s":0.21},{"p":"B","sex":"Female","g":"2015–2017","d":590,"s":0.19},{"p":"B","sex":"Female","g":"2015–2017","d":681,"s":0.175},{"p":"B","sex":"Female","g":"2015–2017","d":827,"s":0.155},{"p":"B","sex":"Female","g":"2015–2017","d":927,"s":0.128},{"p":"B","sex":"Female","g":"2015–2017","d":1722,"s":0.128},
{"p":"B","sex":"Female","g":"2018–2019","d":0,"s":1},{"p":"B","sex":"Female","g":"2018–2019","d":10,"s":0.97},{"p":"B","sex":"Female","g":"2018–2019","d":18,"s":0.947},{"p":"B","sex":"Female","g":"2018–2019","d":37,"s":0.919},{"p":"B","sex":"Female","g":"2018–2019","d":50,"s":0.87},{"p":"B","sex":"Female","g":"2018–2019","d":61,"s":0.822},{"p":"B","sex":"Female","g":"2018–2019","d":85,"s":0.78},{"p":"B","sex":"Female","g":"2018–2019","d":108,"s":0.746},{"p":"B","sex":"Female","g":"2018–2019","d":162,"s":0.655},{"p":"B","sex":"Female","g":"2018–2019","d":175,"s":0.62},{"p":"B","sex":"Female","g":"2018–2019","d":186,"s":0.586},{"p":"B","sex":"Female","g":"2018–2019","d":198,"s":0.55},{"p":"B","sex":"Female","g":"2018–2019","d":209,"s":0.517},{"p":"B","sex":"Female","g":"2018–2019","d":225,"s":0.47},{"p":"B","sex":"Female","g":"2018–2019","d":240,"s":0.419},{"p":"B","sex":"Female","g":"2018–2019","d":260,"s":0.39},{"p":"B","sex":"Female","g":"2018–2019","d":279,"s":0.377},{"p":"B","sex":"Female","g":"2018–2019","d":300,"s":0.35},{"p":"B","sex":"Female","g":"2018–2019","d":326,"s":0.322},{"p":"B","sex":"Female","g":"2018–2019","d":357,"s":0.28},{"p":"B","sex":"Female","g":"2018–2019","d":370,"s":0.25},{"p":"B","sex":"Female","g":"2018–2019","d":381,"s":0.232},{"p":"B","sex":"Female","g":"2018–2019","d":412,"s":0.197},{"p":"B","sex":"Female","g":"2018–2019","d":591,"s":0.148},{"p":"B","sex":"Female","g":"2018–2019","d":685,"s":0.097},{"p":"B","sex":"Female","g":"2018–2019","d":771,"s":0.097}
]},
"spacing": 18,
"resolve": {"scale": {"color": "independent"}},
"vconcat": [
 {
  "title": {"text": "Panel A) Non squamous NSCLC"},
  "data": {"name": "km"},
  "transform": [{"filter": "datum.p == 'A'"}],
  "facet": {"column": {"field": "sex", "type": "nominal", "sort": ["Male", "Female"], "header": {"title": null}}},
  "spacing": {"column": 23},
  "spec": {
   "width": 604, "height": 291,
   "mark": {"type": "line", "interpolate": "step-after", "strokeWidth": 1.4, "clip": true},
   "encoding": {
    "x": {"field": "d", "type": "quantitative", "scale": {"domain": [-128, 2697], "nice": false, "zero": false}, "axis": {"values": [0,183,366,549,732,915,1098,1281,1464,1647,1830,2013,2196,2379,2562], "title": null, "format": "d"}},
    "y": {"field": "s", "type": "quantitative", "scale": {"domain": [-0.05, 1.05], "nice": false, "zero": false}, "axis": {"values": [0, 0.25, 0.5, 0.75, 1], "format": ".2f", "title": "Survival probability", "titlePadding": 7}},
    "color": {"field": "g", "type": "nominal", "scale": {"domain": ["2009–2011", "2012–2014", "2015–2017", "2018–2019"], "range": ["#ccebc5", "#a8ddb5", "#7bccc4", "#3f96cb"]}, "legend": {"title": null}}
   }
  }
 },
 {
  "title": {"text": "Panel B) Squamous NSCLC"},
  "data": {"name": "km"},
  "transform": [{"filter": "datum.p == 'B'"}],
  "facet": {"column": {"field": "sex", "type": "nominal", "sort": ["Male", "Female"], "header": {"title": "Time, days", "titleOrient": "bottom", "labelOrient": "top", "titleFontSize": 22.5, "titleFontWeight": "normal", "titleColor": "#111111", "titlePadding": -6}}},
  "spacing": {"column": 23},
  "spec": {
   "width": 604, "height": 264,
   "mark": {"type": "line", "interpolate": "step-after", "strokeWidth": 1.4, "clip": true},
   "encoding": {
    "x": {"field": "d", "type": "quantitative", "scale": {"domain": [-128, 2697], "nice": false, "zero": false}, "axis": {"values": [0,183,366,549,732,915,1098,1281,1464,1647,1830,2013,2196,2379,2562], "title": null, "format": "d"}},
    "y": {"field": "s", "type": "quantitative", "scale": {"domain": [-0.05, 1.05], "nice": false, "zero": false}, "axis": {"values": [0, 0.25, 0.5, 0.75, 1], "format": ".2f", "title": "Survival probability", "titlePadding": 7}},
    "color": {"field": "g", "type": "nominal", "scale": {"domain": ["2009–2011", "2012–2014", "2015–2017", "2018–2019"], "range": ["#fdd49e", "#fdbb84", "#fc8d59", "#e34a33"]}, "legend": {"title": null}}
   }
  }
 }
]
}
